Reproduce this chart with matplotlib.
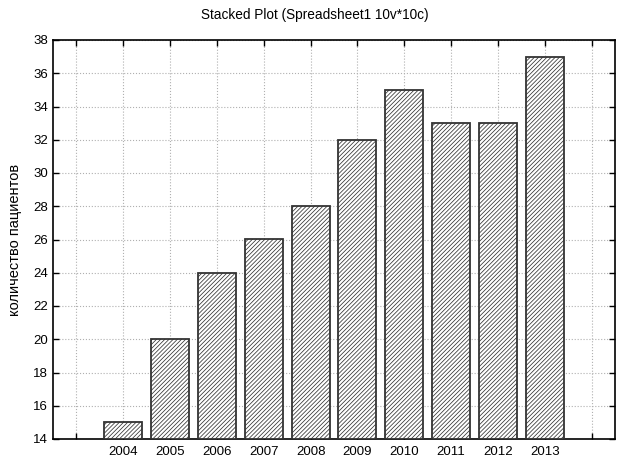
import matplotlib
matplotlib.use('Agg')
import matplotlib.pyplot as plt

years = ['2004', '2005', '2006', '2007', '2008', '2009', '2010', '2011', '2012', '2013']
patients = [15, 20, 24, 26, 28, 32, 35, 33, 33, 37]

plt.rcParams['font.family'] = ['Liberation Sans', 'DejaVu Sans']
plt.rcParams['hatch.linewidth'] = 0.55

fig = plt.figure(figsize=(6.17, 4.62), dpi=100)
ax = fig.add_axes([53/617, 1 - 439/462, (615-53)/617, (439-40)/462])

pos = list(range(len(years)))
ax.bar(pos, [v - 14 for v in patients], bottom=14, width=0.81,
       facecolor='white', edgecolor='#333333', linewidth=1.3,
       hatch='////////', zorder=3)

# gridlines at every slot, incl. the empty ones at both ends
ticks = list(range(-1, len(years) + 1))
ax.set_xticks(ticks)
ax.set_xticklabels([''] + years + [''], fontsize=9.5)
ax.set_xlim(-1.5, len(years) + 0.5)
ax.set_ylim(14, 38)
ax.set_yticks(range(14, 39, 2))
ax.tick_params(axis='y', labelsize=9.5)
ax.tick_params(axis='x', pad=5)
ax.tick_params(direction='in', top=True, right=True, length=4, width=1)
ax.grid(True, color='#b0b0b0', linestyle=':', linewidth=0.8, zorder=0)
for s in ax.spines.values():
    s.set_linewidth(1.2)

fig.text(315/617, 1 - 15/462, 'Stacked Plot (Spreadsheet1 10v*10c)',
         fontsize=9.8, ha='center', va='center')
ax.set_ylabel('количество пациентов', fontsize=10.5, labelpad=8)

fig.savefig('out.png', dpi=100)
